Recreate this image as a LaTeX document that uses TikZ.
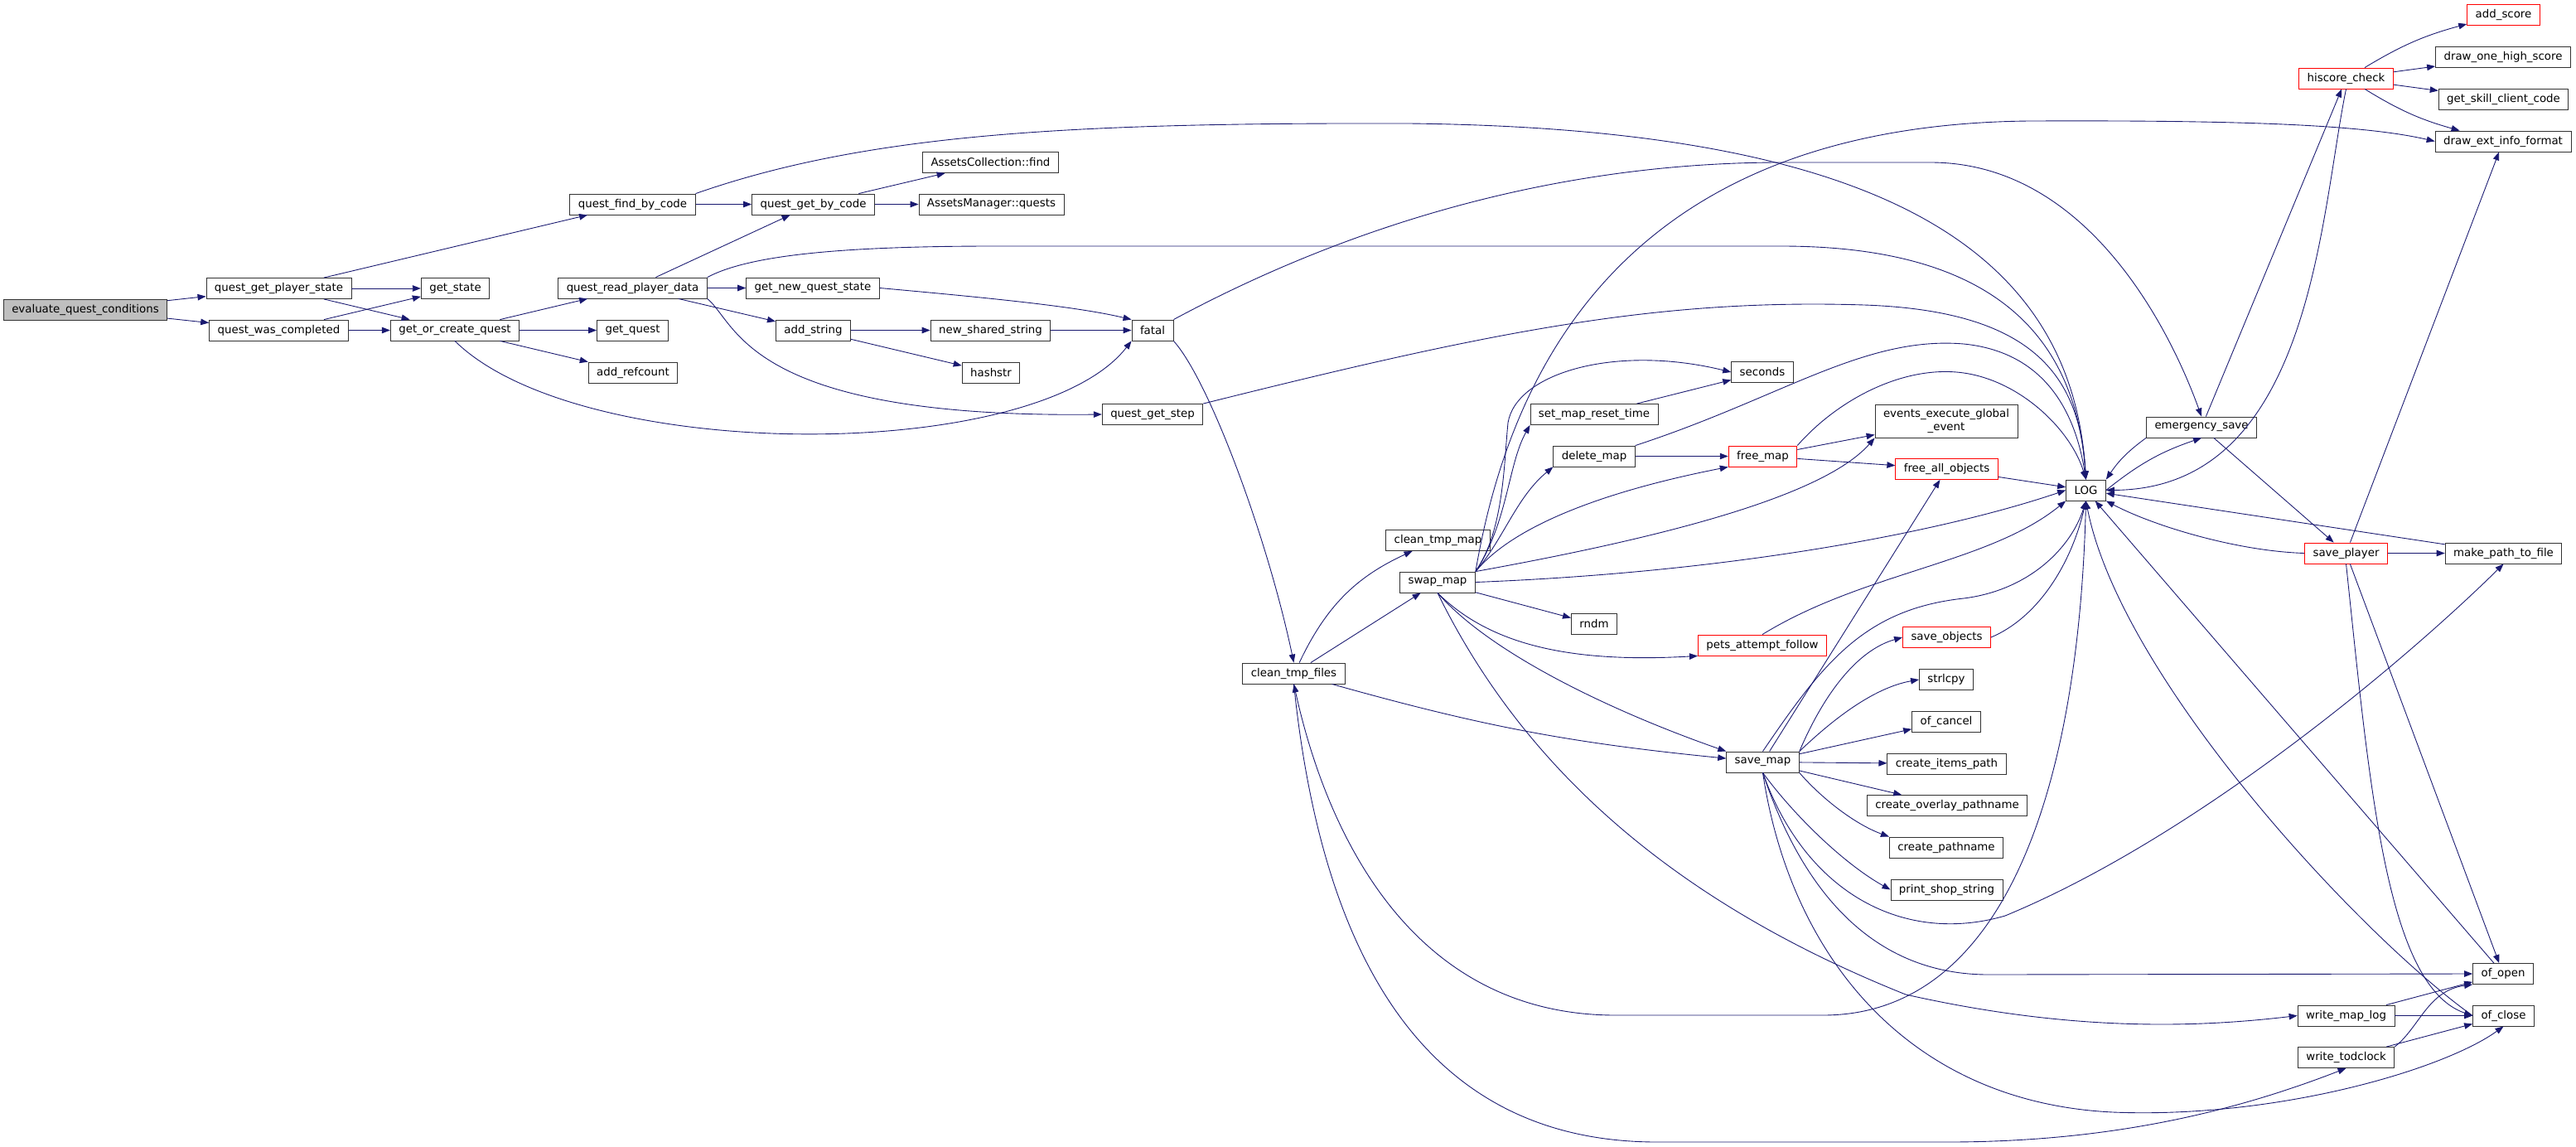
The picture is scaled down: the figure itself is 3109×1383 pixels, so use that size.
\documentclass[tikz,border=0pt]{standalone}
\usepackage{fontspec}
\setmainfont{DejaVu Sans}
\usetikzlibrary{arrows.meta}
\definecolor{doxyblue}{HTML}{191970}
\definecolor{boxline}{HTML}{333333}
\definecolor{rootgray}{HTML}{BFBFBF}
\tikzset{
  fn/.style={draw=boxline, line width=0.5pt, fill=white, rectangle, minimum height=0.5cm,
    inner xsep=0.2cm, inner ysep=0pt, font=\fontsize{7.6}{9}\selectfont},
  redfn/.style={fn, draw=red},
  call/.style={draw=doxyblue, line width=0.5pt, -{Triangle[length=0.2cm,width=0.15cm]}}
}
\newcommand{\fnode}{\node[fn]}
\newcommand{\rnode}{\node[redfn]}

\begin{document}
\begin{tikzpicture}[x=0.02cm, y=-0.02cm]
          \useasboundingbox (0,0) rectangle (3109,1383);
          \fnode[fill=rootgray] (eqc) at (103,373.5) {evaluate\_quest\_conditions};
          \fnode (qgps) at (336.5,348) {quest\_get\_player\_state};
          \fnode (qwc) at (336.5,398.5) {quest\_was\_completed};
          \fnode (getstate) at (549.5,348) {get\_state};
          \fnode (goc) at (549,398.5) {get\_or\_create\_quest};
          \fnode (qfbc) at (763.5,246.5) {quest\_find\_by\_code};
          \fnode (qrpd) at (763.5,347.5) {quest\_read\_player\_data};
          \fnode (getquest) at (763.5,398.5) {get\_quest};
          \fnode (addref) at (764,449.5) {add\_refcount};
          \fnode (qgbc) at (981.5,246.5) {quest\_get\_by\_code};
          \fnode (gnqs) at (981,347.5) {get\_new\_quest\_state};
          \fnode (addstr) at (981.5,398.5) {add\_string};
          \fnode (acfind) at (1195.5,196) {AssetsCollection::find};
          \fnode (amquests) at (1196.5,246.5) {AssetsManager::quests};
          \fnode (nss) at (1195.5,398.5) {new\_shared\_string};
          \fnode (hashstr) at (1196,449.5) {hashstr};
          \fnode (fatal) at (1391,398.5) {fatal};
          \fnode (qgstep) at (1391,500) {quest\_get\_step};
          \fnode (ctf) at (1561.5,812.5) {clean\_tmp\_files};
          \fnode (ctm) at (1735.5,652) {clean\_tmp\_map};
          \fnode (swap) at (1735,702.5) {swap\_map};
          \fnode (smrt) at (1924,500) {set\_map\_reset\_time};
          \fnode (delmap) at (1924,550.5) {delete\_map};
          \fnode (rndm) at (1924,753) {rndm};
          \fnode (seconds) at (2127,449) {seconds};
          \rnode (freemap) at (2127.5,550.5) {free\_map};
          \rnode (pets) at (2127,778.5) {pets\_attempt\_follow};
          \fnode (savemap) at (2127.5,919.5) {save\_map};
          \fnode[minimum height=0.8cm, align=center] (events) at (2349,508) {events\_execute\_global\\\_event};
          \rnode (fao) at (2349.5,566) {free\_all\_objects};
          \rnode (saveobj) at (2349.5,769) {save\_objects};
          \fnode (strlcpy) at (2349,820) {strlcpy};
          \fnode (ofcancel) at (2349,870.5) {of\_cancel};
          \fnode (cip) at (2349.5,921.5) {create\_items\_path};
          \fnode (cop) at (2350,972) {create\_overlay\_pathname};
          \fnode (cpn) at (2349,1022.5) {create\_pathname};
          \fnode (pss) at (2349.5,1073.5) {print\_shop\_string};
          \fnode (log) at (2517.5,591.5) {LOG};
          \fnode (esave) at (2657,515.5) {emergency\_save};
          \rnode (hcheck) at (2831.5,94.5) {hiscore\_check};
          \rnode (splayer) at (2831.5,667.5) {save\_player};
          \fnode (wml) at (2831.5,1225.5) {write\_map\_log};
          \fnode (wtc) at (2831.5,1276) {write\_todclock};
          \rnode (addscore) at (3021.5,18) {add\_score};
          \fnode (dohs) at (3021,69) {draw\_one\_high\_score};
          \fnode (gscc) at (3021.5,120) {get\_skill\_client\_code};
          \fnode (deif) at (3021,170.5) {draw\_ext\_info\_format};
          \fnode (mptf) at (3021.5,667.5) {make\_path\_to\_file};
          \fnode (ofopen) at (3021,1175) {of\_open};
          \fnode (ofclose) at (3021.5,1225.5) {of\_close};
          % quest part
          \draw[call] (eqc) -- (qgps);
          \draw[call] (eqc) -- (qwc);
          \draw[call] (qgps) -- (getstate);
          \draw[call] (qgps) -- (goc);
          \draw[call] (qgps) -- (qfbc);
          \draw[call] (qwc) -- (getstate);
          \draw[call] (qwc) -- (goc);
          \draw[call] (goc) -- (qrpd);
          \draw[call] (goc) -- (getquest);
          \draw[call] (goc) -- (addref);
          \draw[call] (goc.south) .. controls (700,560) and (1250,560) .. (fatal.south west);
          \draw[call] (qfbc) -- (qgbc);
          \draw[call] (qfbc.north east) .. controls (1050,160) and (1300,148) .. (1700,149) .. controls (2250,155) and (2500,290) .. (log.north);
          \draw[call] (qgbc) -- (acfind);
          \draw[call] (qgbc) -- (amquests);
          \draw[call] (qrpd) -- (qgbc);
          \draw[call] (qrpd.north east) .. controls (900,310) and (1000,297) .. (1200,297) -- (2150,297) .. controls (2400,297) and (2505,400) .. (log.north);
          \draw[call] (qrpd) -- (gnqs);
          \draw[call] (qrpd) -- (addstr);
          \draw[call] (qrpd.south east) .. controls (890,390) and (900,505) .. (qgstep.west);
          \draw[call] (gnqs.east) .. controls (1200,360) and (1300,370) .. (fatal.north west);
          \draw[call] (addstr) -- (nss);
          \draw[call] (addstr) -- (hashstr);
          \draw[call] (nss) -- (fatal);
          \draw[call] (fatal.north east) .. controls (1650,260) and (1900,196) .. (2150,196) -- (2330,196) .. controls (2520,196) and (2620,400) .. (esave.north);
          \draw[call] (fatal.south east) .. controls (1460,460) and (1530,650) .. (ctf.north);
          \draw[call] (qgstep.north east) .. controls (1800,400) and (2000,360) .. (2250,368) .. controls (2450,375) and (2510,450) .. (log.north);
          % map part
          \draw[call] (ctf) to[bend left=20] (ctm);
          \draw[call] (ctf) -- (swap);
          \draw[call] (ctf) to[bend right=5] (savemap);
          \draw[call] (ctf.south) .. controls (1600,1200) and (1750,1378) .. (2000,1378) -- (2350,1378) .. controls (2550,1378) and (2700,1340) .. (wtc.south);
          \draw[call] (swap.north east) .. controls (1815,640) and (1815,560) .. (1820,510) .. controls (1830,450) and (1950,415) .. (seconds.west);
          \draw[call] (swap.north east) .. controls (1820,630) and (1820,560) .. (smrt.south west);
          \draw[call] (swap.north east) .. controls (1815,650) and (1830,600) .. (delmap.south west);
          \draw[call] (swap.north east) .. controls (1830,630) and (1950,590) .. (freemap.south west);
          \draw[call] (swap.north east) .. controls (2000,650) and (2200,600) .. (events.south west);
          \draw[call] (swap.north east) .. controls (1830,400) and (2000,150) .. (2450,146) .. controls (2700,145) and (2850,150) .. (deif.west);
          \draw[call] (swap.east) .. controls (2100,690) and (2350,640) .. (log.west);
          \draw[call] (swap) -- (rndm);
          \draw[call] (swap.south) .. controls (1800,780) and (1900,800) .. (pets.south west);
          \draw[call] (swap.south) .. controls (1800,790) and (1950,860) .. (savemap.north west);
          \draw[call] (swap.south) .. controls (1850,950) and (2050,1100) .. (2300,1200) .. controls (2500,1245) and (2650,1240) .. (wml.west);
          \draw[call] (smrt) -- (seconds);
          \draw[call] (delmap) -- (freemap);
          \draw[call] (delmap.north east) .. controls (2150,480) and (2250,405) .. (2370,415) .. controls (2470,425) and (2505,500) .. (log.north);
          \draw[call] (freemap) -- (events);
          \draw[call] (freemap) -- (fao);
          \draw[call] (freemap.north east) .. controls (2220,480) and (2300,440) .. (2370,450) .. controls (2440,460) and (2500,520) .. (log.north);
          \draw[call] (fao) -- (log);
          \draw[call] (pets.north) .. controls (2250,690) and (2400,680) .. (log.south west);
          \draw[call] (savemap) -- (fao);
          \draw[call] (savemap.north) .. controls (2200,800) and (2250,735) .. (2370,722) .. controls (2450,712) and (2500,660) .. (log.south);
          \draw[call] (savemap.north east) .. controls (2200,840) and (2240,785) .. (saveobj.west);
          \draw[call] (savemap.north east) .. controls (2210,870) and (2260,830) .. (strlcpy.west);
          \draw[call] (savemap) -- (ofcancel);
          \draw[call] (savemap) -- (cip);
          \draw[call] (savemap) -- (cop);
          \draw[call] (savemap.south east) .. controls (2200,965) and (2240,995) .. (cpn.north west);
          \draw[call] (savemap.south) .. controls (2170,990) and (2230,1045) .. (pss.west);
          \draw[call] (savemap.south) .. controls (2180,1080) and (2300,1140) .. (2420,1105) .. controls (2650,1010) and (2900,800) .. (mptf.south);
          \draw[call] (savemap.south) .. controls (2170,1060) and (2250,1176) .. (2400,1176) -- (ofopen.west);
          \draw[call] (savemap.south) .. controls (2160,1150) and (2300,1330) .. (2550,1342) .. controls (2750,1350) and (2950,1290) .. (ofclose.south);
          \draw[call] (saveobj.east) .. controls (2460,745) and (2500,680) .. (log.south);
          % LOG and friends
          \draw[call] (log.east) to[bend left=10] (esave.south);
          \draw[call] (esave.south west) to[bend right=10] (log.north east);
          \draw[call] (log.south) .. controls (2510,950) and (2420,1225) .. (2200,1225) -- (1950,1225) .. controls (1700,1225) and (1600,1000) .. (ctf.south);
          \draw[call] (esave) -- (hcheck);
          \draw[call] (esave) -- (splayer);
          \draw[call] (hcheck) to[bend left=8] (addscore);
          \draw[call] (hcheck) -- (dohs);
          \draw[call] (hcheck) -- (gscc);
          \draw[call] (hcheck) to[bend right=8] (deif);
          \draw[call] (hcheck.south) .. controls (2800,260) and (2790,590) .. (log.east);
          \draw[call] (splayer.west) .. controls (2700,665) and (2600,635) .. (log.south east);
          \draw[call] (splayer) -- (mptf);
          \draw[call] (splayer) -- (deif);
          \draw[call] (splayer) -- (ofopen);
          \draw[call] (splayer.south) .. controls (2860,950) and (2880,1190) .. (ofclose.west);
          \draw[call] (mptf) -- (log);
          \draw[call] (ofopen) -- (log);
          \draw[call] (ofclose.west) .. controls (2850,1130) and (2560,820) .. (log.south);
          \draw[call] (wml) -- (ofopen);
          \draw[call] (wml) -- (ofclose);
          \draw[call] (wtc.north east) .. controls (2920,1240) and (2930,1195) .. (ofopen.south west);
          \draw[call] (wtc) -- (ofclose);
        \end{tikzpicture}
\end{document}
